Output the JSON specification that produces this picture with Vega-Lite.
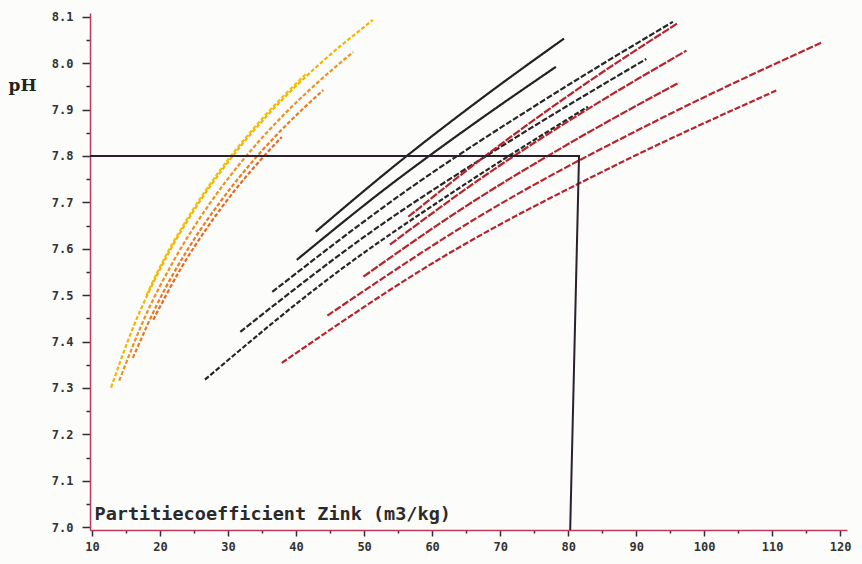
{
  "$schema": "https://vega.github.io/schema/vega-lite/v6.json",
  "width": 757,
  "height": 517,
  "autosize": {"type": "none"},
  "padding": {"left": 90, "top": 13, "right": 15, "bottom": 34},
  "background": "#fcfcfa",
  "config": {"view": {"stroke": null}},
  "datasets": {
    "curves": [
      {"s": "o1", "x": 18, "y": 7.5}, {"s": "o1", "x": 20, "y": 7.561}, {"s": "o1", "x": 25, "y": 7.688}, {"s": "o1", "x": 30, "y": 7.792}, {"s": "o1", "x": 35, "y": 7.88}, {"s": "o1", "x": 41.6, "y": 7.979},
      {"s": "o2", "x": 12.8, "y": 7.301}, {"s": "o2", "x": 16, "y": 7.429}, {"s": "o2", "x": 20, "y": 7.556}, {"s": "o2", "x": 25, "y": 7.683}, {"s": "o2", "x": 30, "y": 7.787}, {"s": "o2", "x": 36, "y": 7.891}, {"s": "o2", "x": 43, "y": 7.992}, {"s": "o2", "x": 51.3, "y": 8.093},
      {"s": "o3", "x": 14, "y": 7.316}, {"s": "o3", "x": 18, "y": 7.46}, {"s": "o3", "x": 22, "y": 7.574}, {"s": "o3", "x": 27, "y": 7.691}, {"s": "o3", "x": 32, "y": 7.788}, {"s": "o3", "x": 38, "y": 7.886}, {"s": "o3", "x": 43, "y": 7.956}, {"s": "o3", "x": 48.4, "y": 8.024},
      {"s": "o4", "x": 16, "y": 7.365}, {"s": "o4", "x": 20, "y": 7.493}, {"s": "o4", "x": 24, "y": 7.597}, {"s": "o4", "x": 29, "y": 7.704}, {"s": "o4", "x": 34, "y": 7.795}, {"s": "o4", "x": 39, "y": 7.873}, {"s": "o4", "x": 44, "y": 7.942},
      {"s": "o5", "x": 19, "y": 7.447}, {"s": "o5", "x": 23, "y": 7.556}, {"s": "o5", "x": 27, "y": 7.647}, {"s": "o5", "x": 31, "y": 7.726}, {"s": "o5", "x": 35, "y": 7.795}, {"s": "o5", "x": 37.9, "y": 7.841},
      {"s": "b1", "x": 42.9, "y": 7.637}, {"s": "b1", "x": 55, "y": 7.785}, {"s": "b1", "x": 67, "y": 7.921}, {"s": "b1", "x": 79.4, "y": 8.053},
      {"s": "b2", "x": 40.1, "y": 7.576}, {"s": "b2", "x": 53, "y": 7.728}, {"s": "b2", "x": 66, "y": 7.868}, {"s": "b2", "x": 78.2, "y": 7.992},
      {"s": "b3", "x": 36.5, "y": 7.507}, {"s": "b3", "x": 56, "y": 7.723}, {"s": "b3", "x": 76, "y": 7.916}, {"s": "b3", "x": 95.4, "y": 8.089},
      {"s": "b4", "x": 31.8, "y": 7.421}, {"s": "b4", "x": 51, "y": 7.636}, {"s": "b4", "x": 71, "y": 7.828}, {"s": "b4", "x": 91.5, "y": 8.009},
      {"s": "b5", "x": 26.6, "y": 7.318}, {"s": "b5", "x": 45, "y": 7.538}, {"s": "b5", "x": 64, "y": 7.731}, {"s": "b5", "x": 82.9, "y": 7.906},
      {"s": "r1", "x": 56.5, "y": 7.669}, {"s": "r1", "x": 69, "y": 7.813}, {"s": "r1", "x": 82, "y": 7.95}, {"s": "r1", "x": 96.0, "y": 8.085},
      {"s": "r2", "x": 53.8, "y": 7.609}, {"s": "r2", "x": 68, "y": 7.76}, {"s": "r2", "x": 83, "y": 7.902}, {"s": "r2", "x": 97.4, "y": 8.027},
      {"s": "r3", "x": 49.9, "y": 7.54}, {"s": "r3", "x": 65, "y": 7.692}, {"s": "r3", "x": 81, "y": 7.834}, {"s": "r3", "x": 96.3, "y": 7.958},
      {"s": "r4", "x": 44.6, "y": 7.456}, {"s": "r4", "x": 68, "y": 7.679}, {"s": "r4", "x": 93, "y": 7.876}, {"s": "r4", "x": 117.2, "y": 8.044},
      {"s": "r5", "x": 37.9, "y": 7.354}, {"s": "r5", "x": 62, "y": 7.586}, {"s": "r5", "x": 86, "y": 7.773}, {"s": "r5", "x": 110.6, "y": 7.941}
    ],
    "ref": [
      {"i": 0, "x": 9.7, "y": 7.8},
      {"i": 1, "x": 81.6, "y": 7.8},
      {"i": 2, "x": 80.3, "y": 6.994}
    ]
  },
  "encoding": {
    "x": {
      "field": "x", "type": "quantitative",
      "scale": {"domain": [9.7, 121], "nice": false, "zero": false},
      "axis": {
        "values": [10, 15, 20, 25, 30, 35, 40, 45, 50, 55, 60, 65, 70, 75, 80, 85, 90, 95, 100, 105, 110, 115, 120],
        "labelExpr": "datum.value % 10 == 0 ? format(datum.value, 'd') : ''",
        "grid": false,
        "domainColor": "#c0395c", "domainWidth": 1.5,
        "tickColor": "#3a2a35", "tickWidth": 1.5,
        "tickSize": {"condition": {"test": "datum.value % 10 == 0", "value": 6}, "value": 3},
        "labelFont": "DejaVu Sans Mono", "labelFontWeight": "bold", "labelFontSize": 12, "labelColor": "#333333",
        "labelPadding": 5, "labelOverlap": false,
        "title": "Partitiecoefficient Zink (m3/kg)",
        "titleFont": "DejaVu Sans Mono", "titleFontWeight": "bold", "titleFontSize": 18.5, "titleColor": "#2a2a2a",
        "titleAlign": "left", "titleBaseline": "alphabetic", "titleAnchor": null,
        "titleX": 4, "titleY": -11
      }
    },
    "y": {
      "field": "y", "type": "quantitative",
      "scale": {"domain": [6.994, 8.108], "nice": false, "zero": false},
      "axis": {
        "values": [7.0, 7.05, 7.1, 7.15, 7.2, 7.25, 7.3, 7.35, 7.4, 7.45, 7.5, 7.55, 7.6, 7.65, 7.7, 7.75, 7.8, 7.85, 7.9, 7.95, 8.0, 8.05, 8.1],
        "labelExpr": "abs(round(datum.value * 10) - datum.value * 10) < 0.01 ? format(datum.value, '.1f') : ''",
        "grid": false,
        "domainColor": "#c0395c", "domainWidth": 1.5,
        "tickColor": "#3a2a35", "tickWidth": 1.5,
        "tickSize": {"condition": {"test": "abs(round(datum.value * 10) - datum.value * 10) < 0.01", "value": 8}, "value": 4},
        "labelFont": "DejaVu Sans Mono", "labelFontWeight": "bold", "labelFontSize": 12, "labelColor": "#333333",
        "labelPadding": 9, "labelOverlap": false,
        "title": "pH",
        "titleFont": "DejaVu Serif", "titleFontWeight": "bold", "titleFontSize": 17, "titleColor": "#222222",
        "titleAngle": 0, "titleAlign": "left", "titleBaseline": "alphabetic", "titleAnchor": null,
        "titleX": -82, "titleY": 77
      }
    }
  },
  "layer": [
    {
      "data": {"name": "curves"},
      "mark": {"type": "line", "interpolate": "monotone", "strokeWidth": 2.2},
      "encoding": {
        "detail": {"field": "s"},
        "color": {
          "field": "s", "type": "nominal", "legend": null,
          "scale": {
            "domain": ["o1", "o2", "o3", "o4", "o5", "b1", "b2", "b3", "b4", "b5", "r1", "r2", "r3", "r4", "r5"],
            "range": ["#f2c200", "#f5b400", "#f0901e", "#ec7b20", "#e86822", "#222222", "#222222", "#262626", "#262626", "#262626", "#b8232b", "#b8232b", "#b8232b", "#b8232b", "#b8232b"]
          }
        },
        "strokeDash": {
          "field": "s", "type": "nominal", "legend": null,
          "scale": {
            "domain": ["o1", "o2", "o3", "o4", "o5", "b1", "b2", "b3", "b4", "b5", "r1", "r2", "r3", "r4", "r5"],
            "range": [[4, 2], [4, 2], [4, 2], [4, 2], [4, 2], [1, 0], [1, 0], [6, 2], [6, 2], [5, 2], [8, 1.5], [8, 1.5], [8, 1.5], [7, 2], [6, 2]]
          }
        }
      }
    },
    {
      "data": {"name": "ref"},
      "mark": {"type": "line", "interpolate": "linear", "color": "#2a2030", "strokeWidth": 2},
      "encoding": {
        "order": {"field": "i", "type": "quantitative"}
      }
    }
  ]
}
